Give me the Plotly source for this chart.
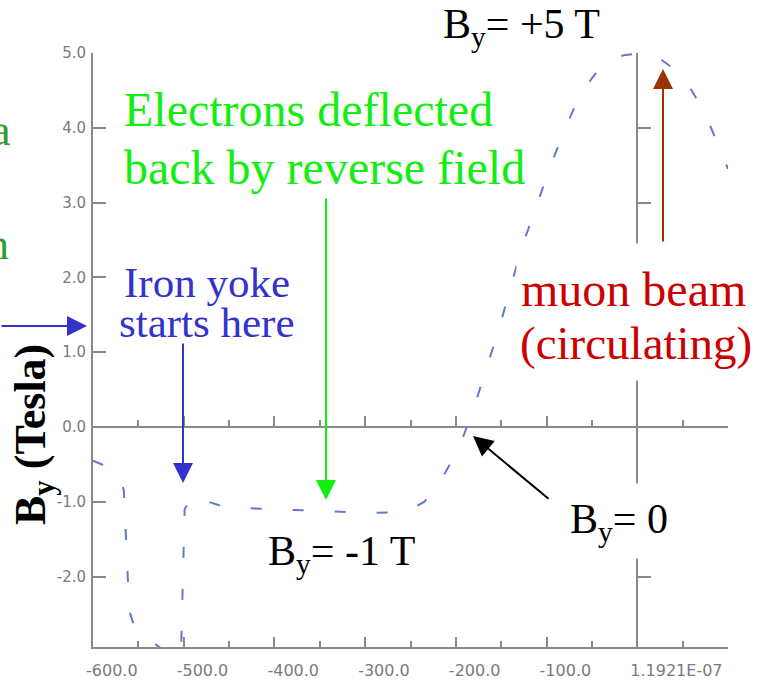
import plotly.graph_objects as go

# ---------------- data ----------------
position_mm = [-600, -590, -580, -570, -566, -564, -562, -560, -555, -545, -535, -520, -503,
               -501, -499, -490, -480, -460, -440, -400, -350, -300, -270, -250, -235, -218,
               -196, -180, -166, -152, -140, -126, -112, -97, -80, -62, -40, -30, -15, 0, 10,
               20, 50, 74, 92, 100]
field_T = [-0.45, -0.50, -0.58, -0.68, -0.85, -1.40, -2.00, -2.45, -2.65, -2.80, -2.87, -3.00, -3.05,
           -2.00, -1.10, -0.90, -0.97, -1.05, -1.08, -1.10, -1.12, -1.15, -1.14, -1.10, -1.00, -0.75,
           -0.26, 0.26, 0.80, 1.33, 1.86, 2.45, 2.92, 3.45, 3.98, 4.47, 4.82, 4.90, 4.97, 4.99, 4.99,
           4.97, 4.70, 4.21, 3.69, 3.45]

x_tick_vals = [-600, -500, -400, -300, -200, -100, 0]
x_tick_text = ["-600.0", "-500.0", "-400.0", "-300.0", "-200.0", "-100.0", "1.1921E-07"]
x_minor_vals = [-550, -450, -350, -250, -150, -50, 50]
y_tick_vals = [-2, -1, 0, 1, 2, 3, 4, 5]
y_tick_text = ["-2.0", "-1.0", "0.0", "1.0", "2.0", "3.0", "4.0", "5.0"]
x_range = [-600, 100]
y_range = [-2.94, 5.0]

# ---------------- layout helpers ----------------
W, H = 761, 687
L, R, T, B = 93, 728, 53, 647


def px(x):
    return (x - L) / (R - L)


def py(y):
    return (B - y) / (B - T)


AX = "#8a8a8a"
SERIF = "Liberation Serif, Times New Roman, serif"

fig = go.Figure()
# invisible carriers so that the zero-crossing axes (x2 at y=0, y2 at x=0) are drawn
fig.add_trace(go.Scatter(x=position_mm, y=field_T, xaxis="x2", yaxis="y", mode="lines",
                         line=dict(color="rgba(0,0,0,0)", width=0), hoverinfo="skip", showlegend=False))
fig.add_trace(go.Scatter(x=position_mm, y=field_T, xaxis="x", yaxis="y2", mode="lines",
                         line=dict(color="rgba(0,0,0,0)", width=0), hoverinfo="skip", showlegend=False))
fig.add_trace(go.Scatter(
    x=position_mm, y=field_T, mode="lines",
    line=dict(color="rgb(100,120,210)", width=2, dash="11px,31px"),
    hoverinfo="skip", showlegend=False))

axis_common = dict(showgrid=False, zeroline=False, showline=True, linecolor=AX, linewidth=2,
                   tickcolor=AX, tickwidth=2, ticks="inside", fixedrange=True, automargin=False)

fig.update_layout(
    width=W, height=H,
    margin=dict(l=L, r=W - R, t=T, b=H - B, autoexpand=False),
    paper_bgcolor="white", plot_bgcolor="white",
    showlegend=False,
    xaxis=dict(range=x_range, domain=[0, 1], tickvals=x_tick_vals, ticktext=x_tick_text,
               ticklen=10, ticklabelposition="outside right", ticklabelshift=-9,
               ticklabelstandoff=8,
               tickfont=dict(family="DejaVu Sans", size=16, color="#7a7a7a"),
               minor=dict(tickvals=x_minor_vals, ticks="inside", ticklen=6, tickwidth=2, tickcolor=AX),
               **axis_common),
    yaxis=dict(range=y_range, domain=[0, 1], tickvals=y_tick_vals, ticktext=y_tick_text,
               ticklen=13, ticklabelstandoff=2,
               tickfont=dict(family="DejaVu Sans", size=15, color="#7a7a7a"),
               **axis_common),
    xaxis2=dict(range=x_range, overlaying="x", anchor="free",
                position=(0 - y_range[0]) / (y_range[1] - y_range[0]),
                side="bottom", tickvals=x_tick_vals, ticklen=10, showticklabels=False,
                minor=dict(tickvals=x_minor_vals, ticks="inside", ticklen=6, tickwidth=2, tickcolor=AX),
                **axis_common),
    yaxis2=dict(range=y_range, overlaying="y", anchor="free",
                position=(0 - x_range[0]) / (x_range[1] - x_range[0]),
                side="left", tickvals=y_tick_vals, ticklen=13, showticklabels=False,
                **axis_common),
)

ann = []


def text(t, x, y, size, color, xanchor="center", **kw):
    ann.append(dict(text=t, x=px(x), y=py(y), xref="paper", yref="paper",
                    xanchor=xanchor, yanchor="middle", showarrow=False,
                    font=dict(family=SERIF, size=size, color=color), **kw))


def arrow(xt, yt, axp, ayp, color):
    ann.append(dict(text="", x=px(xt), y=py(yt), xref="paper", yref="paper",
                    ax=axp, ay=ayp, showarrow=True, arrowhead=2, arrowsize=2,
                    arrowwidth=2, arrowcolor=color, standoff=0))


# white boxes that hide the axis lines / curve behind labels
ann.append(dict(text=" ", x=px(640), y=py(312), xref="paper", yref="paper", showarrow=False,
                width=244, height=134, bgcolor="white", xanchor="center", yanchor="middle"))
ann.append(dict(text=" ", x=px(620), y=py(521), xref="paper", yref="paper", showarrow=False,
                width=112, height=72, bgcolor="white", xanchor="center", yanchor="middle"))

GREEN = "#11ee11"
BLUE = "#3333cc"
RED = "#cc0000"
BROWN = "#993300"

text("Electrons deflected", 122, 110, 48, GREEN, xanchor="left")
text("back by reverse field", 122, 167, 48, GREEN, xanchor="left")
text("Iron yoke", 207, 282, 43, BLUE)
text("starts here", 207, 322, 43, BLUE)
text("muon beam", 633, 289, 48, RED)
text("(circulating)", 636, 343, 47, RED)
text("B<sub>y</sub>= +5 T", 521, 27, 42, "black")
text("B<sub>y</sub>= -1 T", 341, 554, 42, "black")
text("B<sub>y</sub>= 0", 619, 522, 42, "black")
text("a", 13, 131, 44, "#339933", xanchor="right")
text("n", 11, 244, 44, "#339933", xanchor="right")
ann.append(dict(text="<b>B<sub>y</sub> (Tesla)</b>", x=px(33), y=py(435), xref="paper", yref="paper",
                showarrow=False, textangle=-90, xanchor="center", yanchor="middle",
                font=dict(family=SERIF, size=44, color="black")))

arrow(183, 483, 0, -141, BLUE)
arrow(87, 326, -100, 0, BLUE)
arrow(326, 500, 0, -303, GREEN)
arrow(663, 69, 0, 174, BROWN)
arrow(473, 436, 77, 64, "black")

fig.update_layout(annotations=ann)
fig.write_html("out.html")
